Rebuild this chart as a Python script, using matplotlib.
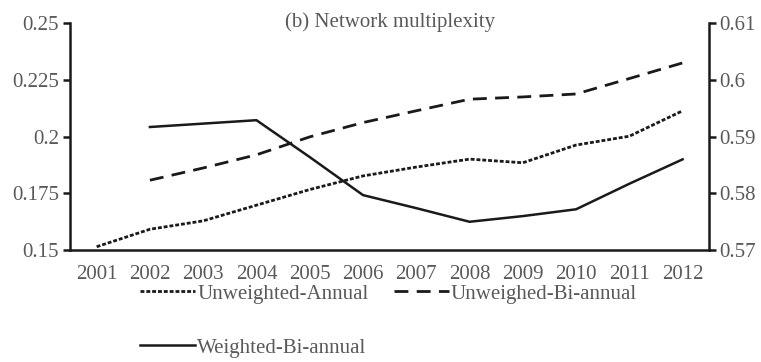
import numpy as np
import matplotlib
matplotlib.use('Agg')
import matplotlib.pyplot as plt

plt.rcParams['font.family'] = ['Liberation Serif', 'DejaVu Serif']

years = ['2001', '2002', '2003', '2004', '2005', '2006',
         '2007', '2008', '2009', '2010', '2011', '2012']
# left axis
unweighted_annual = [0.1515, 0.1592, 0.1629, 0.1698, 0.1767, 0.1827,
                     0.1866, 0.1901, 0.1885, 0.1963, 0.2002, 0.2114]
unweighed_biannual = [np.nan, 0.1808, 0.1862, 0.1920, 0.1999, 0.2062,
                      0.2114, 0.2165, 0.2175, 0.2188, 0.2256, 0.2325]
# right axis
weighted_biannual = [np.nan, 0.5917, 0.5923, 0.5929, 0.5864, 0.5797,
                     0.5774, 0.5750, 0.5760, 0.5772, 0.5817, 0.5860]

txt = '#595959'
fs = 15
x = np.arange(len(years))

fig = plt.figure(figsize=(7.61, 3.62), dpi=100)
ax = fig.add_axes([0.092, 0.309, 0.840, 0.627])
ax2 = ax.twinx()

l1, = ax.plot(x, unweighted_annual, color='#1a1a1a', lw=2.0, dashes=(1.4, 0.7))
l2, = ax.plot(x, unweighed_biannual, color='#1a1a1a', lw=2.0, dashes=(5, 3))
l3, = ax2.plot(x, weighted_biannual, color='#1a1a1a', lw=1.8)

ax.set_xlim(-0.5, len(years) - 0.5)
ax.set_ylim(0.15, 0.25)
ax.set_yticks([0.15, 0.175, 0.2, 0.225, 0.25])
ax.set_yticklabels(['0.15', '0.175', '0.2', '0.225', '0.25'])
ax2.set_ylim(0.57, 0.61)
ax2.set_yticks([0.57, 0.58, 0.59, 0.6, 0.61])
ax2.set_yticklabels(['0.57', '0.58', '0.59', '0.6', '0.61'])
ax.set_xticks(x)
ax.set_xticklabels(years)

for a in (ax, ax2):
    a.spines['top'].set_visible(False)
    for s in ('left', 'right', 'bottom'):
        a.spines[s].set_linewidth(1.8)
        a.spines[s].set_color('#1a1a1a')
ax.spines['right'].set_visible(False)
ax2.spines['left'].set_visible(False)
ax2.spines['bottom'].set_visible(False)

ax.tick_params(axis='y', direction='out', length=5, width=1.8, colors='#1a1a1a',
               labelcolor=txt, labelsize=fs, pad=3)
ax2.tick_params(axis='y', direction='out', length=5, width=1.8, colors='#1a1a1a',
                labelcolor=txt, labelsize=fs, pad=2)
ax.tick_params(axis='x', length=0, labelcolor=txt, labelsize=fs, pad=11)

ax.text(0.5, 1.005, '(b) Network multiplexity', transform=ax.transAxes,
        ha='center', va='center', fontsize=fs, color=txt)

# column-major fill: first column gets l1 and l3, second gets l2
fig.legend([l1, l3, l2], ['Unweighted-Annual', 'Weighted-Bi-annual', 'Unweighed-Bi-annual'],
           loc='upper left', bbox_to_anchor=(0.184, 0.215), ncol=2, frameon=False,
           fontsize=fs, labelcolor=txt, handlelength=2.65, handletextpad=0.1,
           columnspacing=1.2, labelspacing=1.65, borderpad=0, borderaxespad=0)

fig.savefig('out.png', dpi=100)
